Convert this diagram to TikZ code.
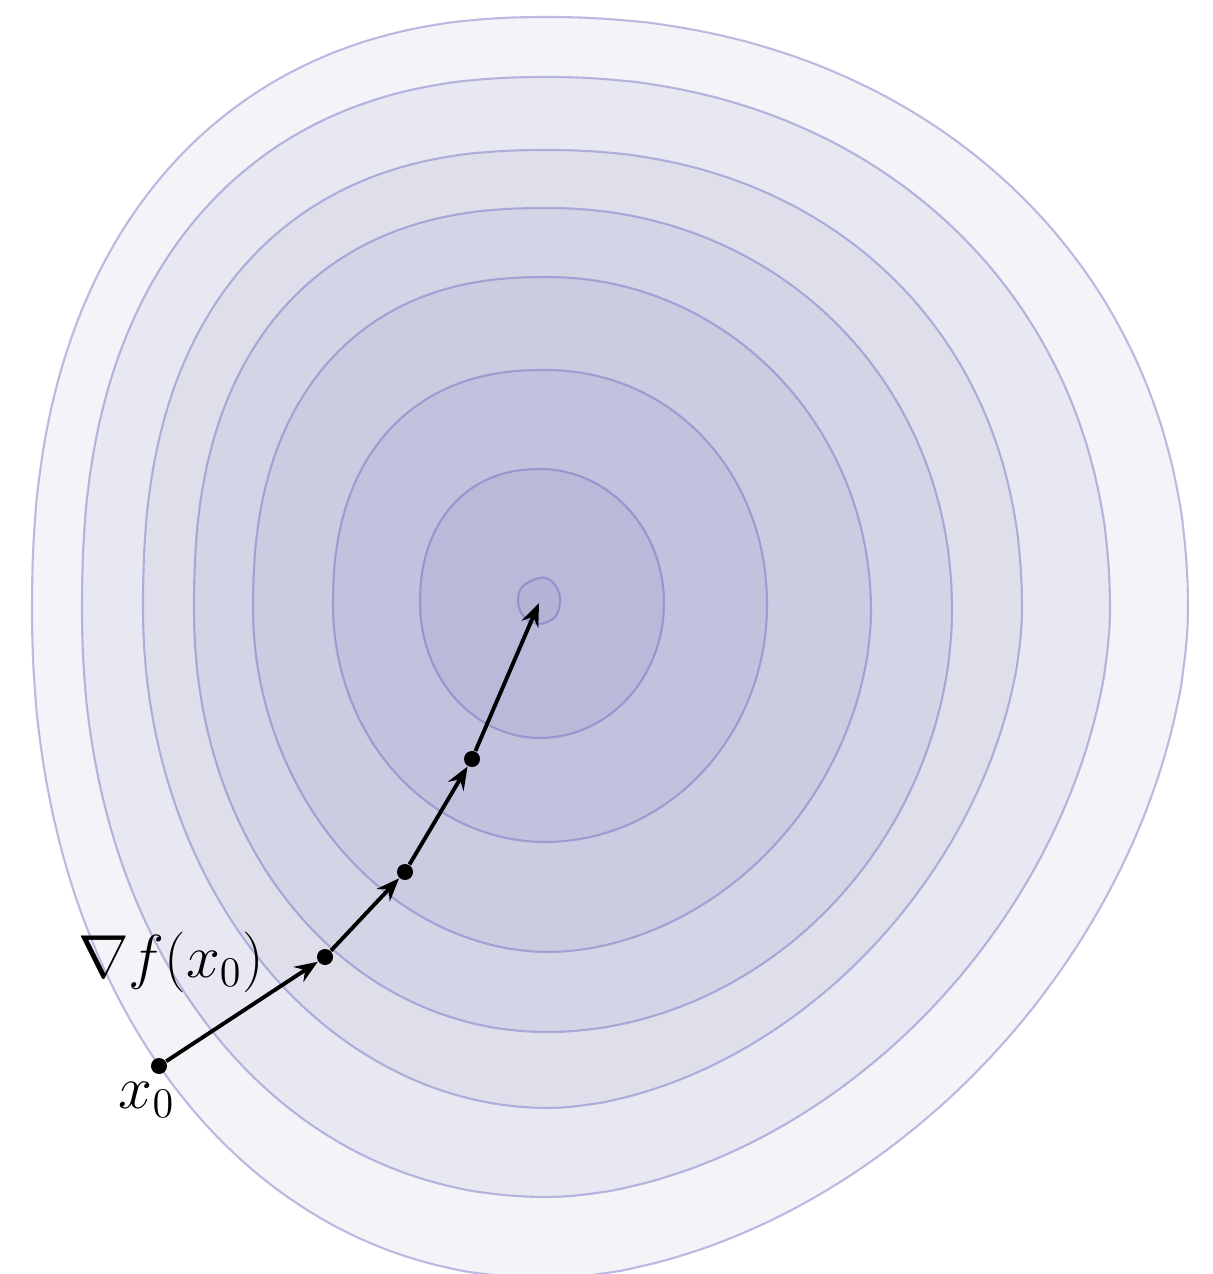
\documentclass[tikz,border=0pt]{standalone}
\usetikzlibrary{arrows.meta}
\definecolor{bandA}{RGB}{243,243,248}
\definecolor{bandB}{RGB}{232,232,242}
\definecolor{bandC}{RGB}{223,223,236}
\definecolor{bandD}{RGB}{212,212,231}
\definecolor{bandE}{RGB}{203,203,226}
\definecolor{bandF}{RGB}{194,194,222}
\definecolor{bandG}{RGB}{185,185,218}
\definecolor{bandH}{RGB}{179,179,214}
\definecolor{lvl}{RGB}{100,100,190}
\tikzset{
  contour/.style={draw=lvl, draw opacity=0.42, line width=0.6pt, line join=round},
  dotn/.style={circle, fill=black, inner sep=0pt, minimum size=1.6mm},
  arr/.style={line width=1.1pt, -{Stealth[length=2.3mm,width=1.8mm,inset=0.8mm]}},
  lbl/.style={inner sep=0pt, font=\LARGE}
}
% superelliptic level curve: fill, cx, cy, aL, aR, bT, bB ; exponents in \nA (TL) \nB (TR) \nC (BR) \nD (BL)
\newcommand\lvlshape[7]{%
  \path[contour, fill=#1]
    plot[domain=0:90, samples=80] ({#2-#4*pow(max(cos(\x),0.0001),2/\nA)}, {#3-#6*pow(max(sin(\x),0.0001),2/\nA)})
    -- plot[domain=90:0, samples=80] ({#2+#5*pow(max(cos(\x),0.0001),2/\nB)}, {#3-#6*pow(max(sin(\x),0.0001),2/\nB)})
    -- plot[domain=0:90, samples=80] ({#2+#5*pow(max(cos(\x),0.0001),2/\nC)}, {#3+#7*pow(max(sin(\x),0.0001),2/\nC)})
    -- plot[domain=90:0, samples=80] ({#2-#4*pow(max(cos(\x),0.0001),2/\nD)}, {#3+#7*pow(max(sin(\x),0.0001),2/\nD)})
    -- cycle;}
\begin{document}
\begin{tikzpicture}[x=0.01cm, y=-0.01cm]
\useasboundingbox (0,0) rectangle (1212,1274);
\begin{scope}
\clip (0,0) rectangle (1212,1274);
\def\nA{2.3}\def\nB{2.1}\def\nC{1.8}\def\nD{2.1}
\lvlshape{bandA}{548}{610}{516}{640}{593}{668}
\def\nA{2.35}\def\nB{2.1}\def\nC{1.8}\def\nD{2.1}
\lvlshape{bandB}{548}{610}{466}{562}{533}{587}
\def\nA{2.4}\def\nB{2.15}\def\nC{1.8}\def\nD{2.0}
\lvlshape{bandC}{548}{610}{405}{474}{460}{498}
\def\nA{2.4}\def\nB{2.05}\def\nC{1.95}\def\nD{2.05}
\lvlshape{bandD}{548}{610}{354}{404}{402}{422}
\def\nA{2.35}\def\nB{2.0}\def\nC{1.9}\def\nD{1.95}
\lvlshape{bandE}{548}{610}{295}{323}{333}{342}
\def\nA{2.3}\def\nB{2.05}\def\nC{2.0}\def\nD{2.0}
\lvlshape{bandF}{545}{605}{212}{222}{235}{237}
\def\nA{2.2}\def\nB{2.0}\def\nC{2.0}\def\nD{2.0}
\lvlshape{bandG}{540}{603}{120}{124}{134}{135}
% innermost small level curve
\path[contour, fill=bandH] plot[smooth cycle, tension=0.6] coordinates {
(539,578) (550,580) (558,590) (560,603) (555,617) (540,624) (525,618) (518,603) (522,587)};
\end{scope}
% descent path
\node[dotn] (p0) at (159,1066) {};
\node[dotn] (p1) at (325,957) {};
\node[dotn] (p2) at (405,872) {};
\node[dotn] (p3) at (472,759) {};
\coordinate (p4) at (539,603);
\draw[arr] (p0) -- (p1);
\draw[arr] (p1) -- (p2);
\draw[arr] (p2) -- (p3);
\draw[arr] (p3) -- (p4);
% labels
\node[lbl] (lx) at (147,1100) {$x_0$};
\node[lbl] (lg) at (171,962) {$\nabla f(x_0)$};
\end{tikzpicture}
\end{document}
